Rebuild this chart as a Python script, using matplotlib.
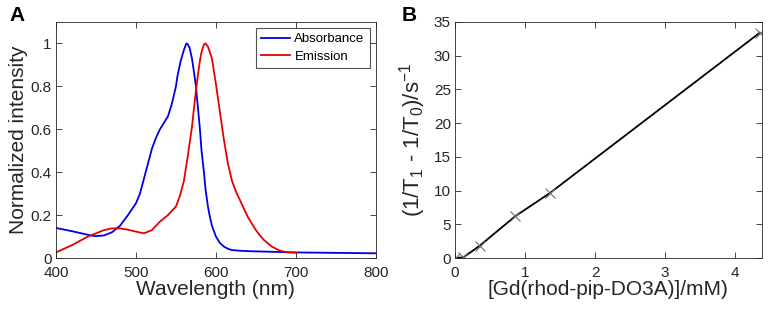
import numpy as np
import matplotlib
matplotlib.use('Agg')
import matplotlib.pyplot as plt

plt.rcParams['font.family'] = ['Liberation Sans', 'DejaVu Sans']
plt.rcParams['mathtext.default'] = 'regular'

# panel A: spectra
abs_wl = [400, 420, 440, 449, 460, 470, 480, 490, 500, 505, 510, 515, 520, 525, 530, 535, 540, 545,
          550, 552, 556, 560, 563, 565, 567, 570, 572, 575, 577, 580, 582, 585, 587, 590, 592, 595,
          597, 600, 605, 610, 615, 620, 630, 640, 660, 700, 750, 800]
abs_int = [0.14, 0.125, 0.108, 0.102, 0.105, 0.12, 0.15, 0.2, 0.255, 0.3, 0.37, 0.44, 0.51, 0.56,
           0.6, 0.63, 0.66, 0.72, 0.8, 0.85, 0.92, 0.97, 1.0, 0.995, 0.98, 0.93, 0.88, 0.8, 0.72,
           0.6, 0.5, 0.4, 0.32, 0.24, 0.2, 0.15, 0.13, 0.1, 0.07, 0.053, 0.043, 0.037, 0.034,
           0.032, 0.03, 0.026, 0.024, 0.022]

em_wl = [400, 420, 440, 450, 460, 470, 480, 490, 500, 510, 520, 530, 540, 550, 555, 560, 565, 570,
         572, 575, 577, 580, 582, 585, 587, 590, 595, 600, 605, 610, 615, 620, 625, 630, 635, 640,
         645, 650, 655, 660, 670, 680, 690, 700]
em_int = [0.026, 0.06, 0.1, 0.115, 0.13, 0.138, 0.138, 0.132, 0.123, 0.115, 0.13, 0.17, 0.2, 0.24,
          0.29, 0.36, 0.48, 0.61, 0.68, 0.78, 0.84, 0.92, 0.96, 0.995, 1.0, 0.985, 0.93, 0.81, 0.68,
          0.55, 0.44, 0.36, 0.31, 0.27, 0.23, 0.19, 0.16, 0.13, 0.105, 0.084, 0.053, 0.034, 0.026,
          0.025]

# panel B: relaxation vs concentration
conc = [0.0, 0.12, 0.35, 0.86, 1.35, 4.35]
rate = [0.0, 0.1, 1.8, 6.2, 9.6, 33.4]

txt = '#262626'
fig = plt.figure(figsize=(7.69, 3.16), dpi=100)
axA = fig.add_axes([0.0728, 0.1835, 0.416, 0.747])
axB = fig.add_axes([0.5917, 0.1835, 0.399, 0.747])

axA.plot(abs_wl, abs_int, color='#0000e6', lw=1.3, label='Absorbance')
axA.plot(em_wl, em_int, color='#e60000', lw=1.3, label='Emission')
axA.set_xlim(400, 800)
axA.set_ylim(0, 1.1)
axA.set_xticks([400, 500, 600, 700, 800])
axA.set_yticks([0, 0.2, 0.4, 0.6, 0.8, 1])
axA.set_yticklabels(['0', '0.2', '0.4', '0.6', '0.8', '1'])
axA.set_xlabel('Wavelength (nm)', fontsize=15, color=txt, labelpad=0)
axA.set_ylabel('Normalized intensity', fontsize=15, color=txt, labelpad=2)
leg = axA.legend(loc='upper right', fontsize=9.5, frameon=True, fancybox=False,
                 edgecolor='#262626', handlelength=2.2, borderaxespad=0.45,
                 handletextpad=0.3, labelspacing=0.4, borderpad=0.4)
leg.get_frame().set_linewidth(0.8)

axB.plot(conc, rate, color='black', lw=1.3, marker='x', ms=7, mec='#707070', mew=0.8)
axB.set_xlim(0, 4.38)
axB.set_ylim(0, 35)
axB.set_xticks([0, 1, 2, 3, 4])
axB.set_yticks(range(0, 36, 5))
axB.set_xlabel('[Gd(rhod-pip-DO3A)]/mM)', fontsize=15, color=txt, labelpad=0)
axB.set_ylabel('(1/T$_1$ - 1/T$_0$)/s$^{-1}$', fontsize=16, color=txt, labelpad=4)

for ax in (axA, axB):
    ax.tick_params(direction='in', top=True, right=True, labelsize=11, colors=txt,
                   length=4, width=0.6, pad=3)
    ax.tick_params(axis='x', pad=6)
    for s in ax.spines.values():
        s.set_color('#262626')
        s.set_linewidth(0.6)

fig.text(0.012, 0.935, 'A', fontsize=15, fontweight='bold')
fig.text(0.522, 0.935, 'B', fontsize=15, fontweight='bold')

fig.savefig('out.png', dpi=100)
